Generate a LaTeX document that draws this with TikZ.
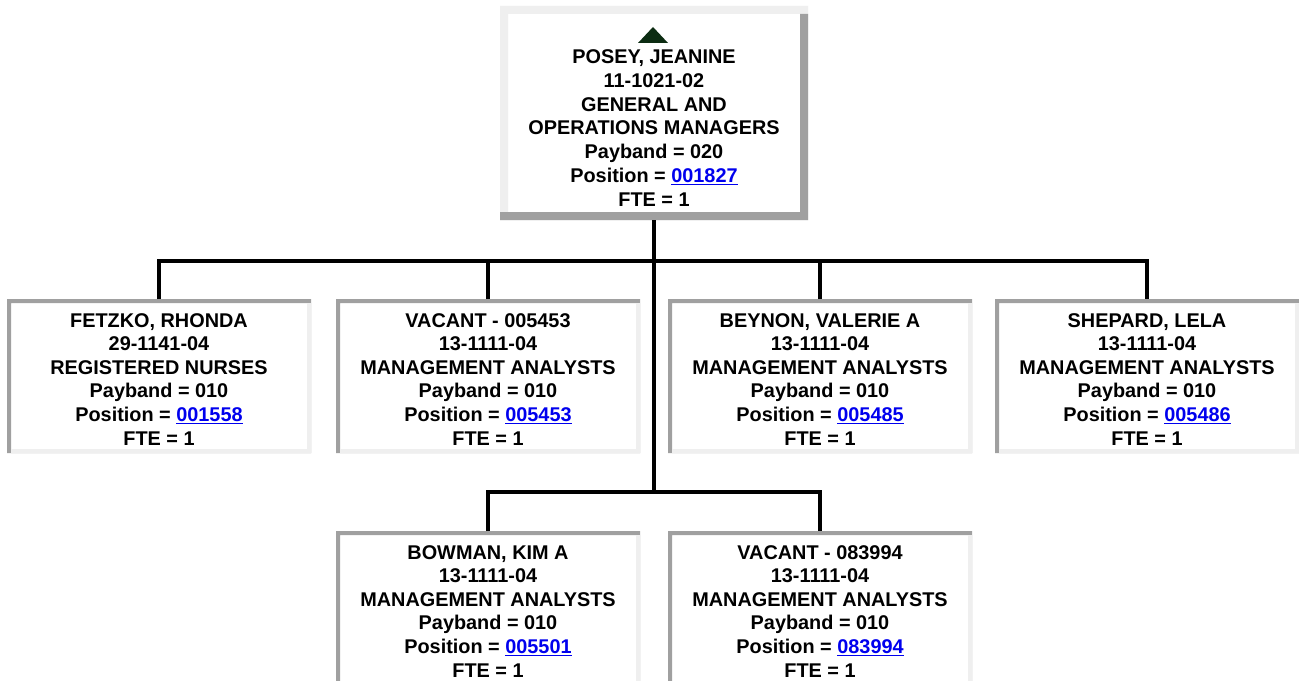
\documentclass[tikz,border=0pt]{standalone}
\usepackage{fontspec}
\setmainfont{Liberation Sans}
\usepackage{tikz}
\usetikzlibrary{positioning}

\definecolor{framedark}{RGB}{160,160,160}
\definecolor{framelight}{RGB}{239,239,239}
\definecolor{linkblue}{RGB}{0,0,238}
\definecolor{markgreen}{RGB}{12,44,18}

\newcommand{\poslink}[1]{\textcolor{linkblue}{\smash{\underline{#1}}}}
\newcommand{\topgap}{\rule{0pt}{15.2pt}}

% sunken frame: dark top/left, light bottom/right
\newcommand{\insetframe}[1]{%
    \fill[framedark,even odd rule] (#1.north west) rectangle (#1.south east)
        ([xshift=3pt,yshift=-3pt]#1.north west) rectangle ([xshift=-3pt,yshift=3pt]#1.south east);
    \fill[framelight] ([xshift=3pt]#1.south west) -- (#1.south east) -- ([yshift=-3pt]#1.north east)
        -- ([xshift=-3pt,yshift=-3pt]#1.north east) -- ([xshift=-3pt,yshift=3pt]#1.south east)
        -- ([xshift=3pt,yshift=3pt]#1.south west) -- cycle;
}
% raised frame: light top/left, dark bottom/right
\newcommand{\outsetframe}[1]{%
    \fill[framelight,even odd rule] (#1.north west) rectangle (#1.south east)
        ([xshift=6pt,yshift=-6pt]#1.north west) rectangle ([xshift=-6pt,yshift=6pt]#1.south east);
    \fill[framedark] ([yshift=-6pt]#1.north east) -- (#1.south east) -- (#1.south west)
        -- ([yshift=6pt]#1.south west) -- ([xshift=-6pt,yshift=6pt]#1.south east)
        -- ([xshift=-6pt,yshift=-6pt]#1.north east) -- cycle;
}

\begin{document}
\begin{tikzpicture}[x=0.75pt,y=-0.75pt,
    member/.style={fill=white,inner sep=0pt,outer sep=3pt,align=center,
        minimum width=222pt,minimum height=109.5pt,
        font=\bfseries\fontsize{14.9pt}{17.7pt}\selectfont},
    head/.style={member,outer sep=6pt,minimum width=219pt,minimum height=148.5pt,
        font=\bfseries\fontsize{14.9pt}{17.9pt}\selectfont},
    orgline/.style={black,line width=3pt}]
    \useasboundingbox[fill=white] (0,0) rectangle (1299,681);

    % head of unit
    \node[head] (posey) at (654,113) {\rule{0pt}{15pt}\\POSEY, JEANINE\\11-1021-02\\GENERAL AND\\OPERATIONS MANAGERS\\Payband = 020\\Position = \poslink{001827}\\FTE = 1};

    % first row
    \node[member] (fetzko) at (159,376) {\topgap FETZKO, RHONDA\\29-1141-04\\REGISTERED NURSES\\Payband = 010\\Position = \poslink{001558}\\FTE = 1};
    \node[member] (vacanta) at (488,376) {\topgap VACANT - 005453\\13-1111-04\\MANAGEMENT ANALYSTS\\Payband = 010\\Position = \poslink{005453}\\FTE = 1};
    \node[member] (beynon) at (820,376) {\topgap BEYNON, VALERIE A\\13-1111-04\\MANAGEMENT ANALYSTS\\Payband = 010\\Position = \poslink{005485}\\FTE = 1};
    \node[member] (shepard) at (1147,376) {\topgap SHEPARD, LELA\\13-1111-04\\MANAGEMENT ANALYSTS\\Payband = 010\\Position = \poslink{005486}\\FTE = 1};

    % second row
    \node[member] (bowman) at (488,608) {\topgap BOWMAN, KIM A\\13-1111-04\\MANAGEMENT ANALYSTS\\Payband = 010\\Position = \poslink{005501}\\FTE = 1};
    \node[member] (vacantb) at (820,608) {\topgap VACANT - 083994\\13-1111-04\\MANAGEMENT ANALYSTS\\Payband = 010\\Position = \poslink{083994}\\FTE = 1};

    \outsetframe{posey}
    \insetframe{fetzko}
    \insetframe{vacanta}
    \insetframe{beynon}
    \insetframe{shepard}
    \insetframe{bowman}
    \insetframe{vacantb}

    % up marker
    \fill[markgreen] (638,43) -- (668,43) -- (653,27) -- cycle;

    % reporting lines
    \coordinate (upperbus) at (654,261);
    \coordinate (lowerbus) at (654,492);
    \draw[orgline] (posey.south) -- (lowerbus);
    \draw[orgline] (fetzko.north) |- (upperbus) -| (shepard.north);
    \draw[orgline] (vacanta.north) -- (vacanta.north |- upperbus);
    \draw[orgline] (beynon.north) -- (beynon.north |- upperbus);
    \draw[orgline] (bowman.north) |- (lowerbus) -| (vacantb.north);
\end{tikzpicture}
\end{document}
